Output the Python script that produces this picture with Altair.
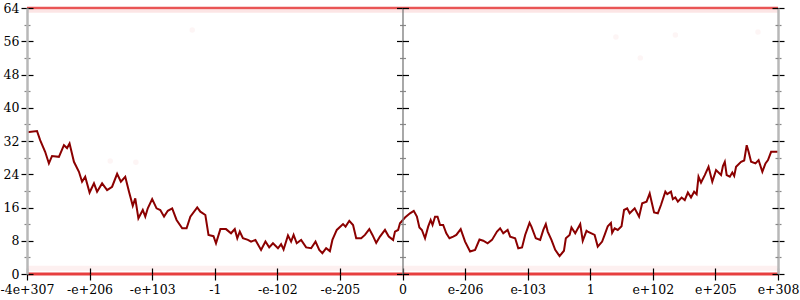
import altair as alt
import pandas as pd

# ---- data ----
X_TICKS = [0, 100, 200, 300, 400, 500, 600, 700, 800, 900, 1000, 1100, 1200]
X_TICK_LABELS = ['-4e+307', '-e+206', '-e+103', '-1', '-e-102', '-e-205', '0',
                 'e-206', 'e-103', '1', 'e+102', 'e+205', 'e+308']
Y_TICKS = [0, 4, 8, 12, 16, 20, 24, 28, 32, 36, 40, 44, 48, 52, 56, 60, 64]

X_LINE = [0, 16, 21, 29, 35, 40, 51, 59, 64, 68, 75, 83, 88, 93, 100, 107, 112, 120, 128, 136,
          144, 150, 157, 163, 169, 173, 178, 185, 189, 193, 200, 207, 213, 219, 225, 232, 239, 248, 255, 261,
          272, 277, 285, 290, 298, 302, 309, 318, 326, 332, 336, 340, 345, 353, 358, 365, 374, 381, 387, 393,
          401, 406, 410, 417, 422, 426, 431, 438, 446, 454, 461, 467, 472, 478, 484, 488, 495, 505, 509, 515,
          521, 526, 534, 540, 547, 552, 558, 564, 572, 578, 585, 588, 593, 596, 604, 612, 618, 623, 627, 631,
          636, 641, 645, 648, 652, 656, 660, 665, 670, 675, 681, 686, 693, 700, 708, 716, 723, 729, 736, 743,
          751, 756, 761, 768, 772, 780, 785, 791, 796, 803, 806, 813, 820, 825, 829, 832, 838, 844, 851, 858,
          861, 867, 870, 876, 884, 888, 894, 896, 907, 912, 919, 923, 928, 933, 935, 939, 944, 950, 954, 959,
          963, 971, 978, 983, 990, 995, 998, 1002, 1008, 1013, 1020, 1023, 1029, 1032, 1036, 1040, 1046, 1051, 1056, 1061,
          1066, 1070, 1073, 1077, 1083, 1089, 1095, 1101, 1109, 1112, 1115, 1118, 1123, 1127, 1130, 1133, 1141, 1146, 1150, 1153,
          1157, 1164, 1169, 1175, 1180, 1184, 1189, 1200]
Y_LINE = [34.1, 34.4, 32.2, 29.4, 26.6, 28.4, 28.2, 31.0, 30.3, 31.4, 27.0, 24.6, 22.2, 23.4, 19.6, 21.8, 19.8, 21.8, 20.2, 21.0,
          24.1, 22.2, 23.4, 19.8, 16.4, 18.2, 13.4, 15.4, 13.8, 15.8, 18.0, 15.8, 15.4, 13.8, 15.2, 15.8, 13.0, 11.0, 11.0, 13.8,
          16.0, 15.0, 14.2, 9.4, 9.1, 7.4, 10.8, 10.8, 9.8, 10.8, 8.6, 10.2, 8.6, 8.2, 7.8, 8.2, 5.8, 7.8, 6.4, 7.4,
          6.2, 7.2, 5.9, 9.3, 7.8, 9.4, 7.4, 8.2, 6.4, 6.2, 7.8, 5.8, 5.0, 6.2, 5.5, 8.2, 10.6, 12.0, 11.4, 12.8,
          11.8, 8.6, 8.6, 9.4, 10.8, 9.4, 7.5, 9.0, 10.6, 9.0, 8.2, 10.2, 10.6, 12.2, 13.6, 14.6, 15.2, 13.8, 11.2, 10.6,
          8.6, 11.4, 13.0, 11.8, 13.8, 13.8, 11.8, 11.8, 9.8, 8.6, 9.0, 9.4, 10.8, 7.8, 5.4, 5.8, 8.3, 8.0, 7.4, 8.2,
          10.2, 11.0, 9.8, 10.6, 9.0, 8.6, 6.2, 6.4, 9.4, 12.3, 11.4, 8.6, 8.2, 10.6, 12.0, 10.2, 8.2, 5.8, 4.3, 5.6,
          8.6, 9.4, 11.2, 9.8, 12.0, 8.0, 10.4, 10.2, 9.4, 6.6, 7.8, 9.4, 11.5, 12.3, 9.9, 11.0, 10.6, 11.5, 15.4, 15.8,
          14.6, 15.8, 13.8, 17.0, 17.4, 19.4, 17.4, 14.8, 14.6, 16.6, 19.8, 19.2, 19.8, 18.0, 18.4, 17.4, 18.4, 17.8, 19.6, 18.4,
          19.8, 19.2, 23.4, 22.0, 23.8, 25.8, 22.2, 25.0, 23.8, 26.0, 27.0, 23.8, 23.4, 24.4, 23.6, 25.8, 27.0, 27.3, 31.0, 29.4,
          27.0, 26.6, 27.4, 24.6, 26.6, 27.4, 29.4, 29.4]

BOTTOM_RULE = [0]
TOP_RULE = [64]
BOTTOM_FUZZ = [1.4]
TOP_FUZZ = [63.2]
STRAY_X = [264, 941, 1036, 1168, 980, 133, 174]
STRAY_Y = [58.7, 57.0, 57.5, 58.2, 52.0, 27.2, 26.9]

assert len(X_LINE) == len(Y_LINE)

FONT = "DejaVu Serif"
W, H = 751, 266

xs = alt.Scale(domain=[0, 1200], nice=False, zero=False)
ys = alt.Scale(domain=[0, 64], nice=False, zero=False)

MAJOR = "datum.value % 8 === 0"
label_expr = "[" + ",".join("'" + l + "'" for l in X_TICK_LABELS) + "][round(datum.value / 100)]"


def yaxis(orient, offset, labels=False, domain_color=None, domain_width=1):
    kw = dict(orient=orient, offset=offset, values=Y_TICKS, title=None, grid=False,
              labels=labels,
              tickSize={"condition": {"test": MAJOR, "value": 6}, "value": 3},
              tickColor={"condition": {"test": MAJOR, "value": "#000000"}, "value": "#888888"},
              tickWidth=1.2, zindex=1)
    if labels:
        kw.update(labelExpr=MAJOR + " ? datum.label : ''", labelFont=FONT, labelFontSize=12.5,
                  labelColor="#000000", labelPadding=2, labelOverlap=False, labelFlush=False)
    if domain_color:
        kw.update(domain=True, domainColor=domain_color, domainWidth=domain_width)
    else:
        kw.update(domain=False)
    return alt.Axis(**kw)


x_bottom = alt.Axis(orient="bottom", values=X_TICKS, labelExpr=label_expr, title=None, grid=False,
                    tickSize=6, tickColor="#000000", tickWidth=1.2, domain=False,
                    labelFont=FONT, labelFontSize=12.5, labelColor="#000000",
                    labelPadding=3, labelOverlap=False, labelFlush=False, labelBound=False, zindex=1)
x_up = alt.Axis(orient="top", offset=-H, values=X_TICKS, labels=False, title=None, grid=False,
                tickSize=6, tickColor="#000000", tickWidth=1.2, domain=False, zindex=1)

line_df = pd.DataFrame({"x": X_LINE, "v": Y_LINE})
stray_df = pd.DataFrame({"x": STRAY_X, "v": STRAY_Y})

bottom_fuzz = alt.Chart(pd.DataFrame({"v": BOTTOM_FUZZ})).mark_rule(
    color="#f07070", strokeWidth=5, opacity=0.1
).encode(y=alt.Y("v:Q", scale=ys, axis=yaxis("left", -W / 2, domain_color="#7a7a7a", domain_width=1.3)))

top_fuzz = alt.Chart(pd.DataFrame({"v": TOP_FUZZ})).mark_rule(
    color="#f07070", strokeWidth=3, opacity=0.18
).encode(y=alt.Y("v:Q", scale=ys, axis=yaxis("right", 0, domain_color="#b8b8b8", domain_width=2.5)))

bottom_rule = alt.Chart(pd.DataFrame({"v": BOTTOM_RULE})).mark_rule(
    color="#e42a2a", strokeWidth=3, opacity=0.9
).encode(y=alt.Y("v:Q", scale=ys, axis=yaxis("right", -W)))

top_rule = alt.Chart(pd.DataFrame({"v": TOP_RULE})).mark_rule(
    color="#e42a2a", strokeWidth=2.5, opacity=0.8
).encode(y=alt.Y("v:Q", scale=ys, axis=yaxis("left", -W)))

stray = alt.Chart(stray_df).mark_circle(size=30, color="#e05050", opacity=0.06).encode(
    x=alt.X("x:Q", scale=xs, axis=x_up),
    y=alt.Y("v:Q", scale=ys, axis=yaxis("right", -W / 2)),
)

line = alt.Chart(line_df).mark_line(color="#8b0000", strokeWidth=2).encode(
    x=alt.X("x:Q", scale=xs, axis=x_bottom),
    y=alt.Y("v:Q", scale=ys, axis=yaxis("left", 0, labels=True, domain_color="#b8b8b8", domain_width=2.5)),
)

chart = alt.layer(bottom_fuzz, top_fuzz, bottom_rule, top_rule, stray, line).resolve_axis(
    x="independent", y="independent"
).properties(
    width=W, height=H,
    autosize=alt.AutoSizeParams(type="none"),
    padding={"left": 27, "top": 8, "right": 22, "bottom": 26},
    background="#ffffff",
).configure_view(strokeWidth=0)

chart.save("out.html", embed_options={"renderer": "svg", "actions": False})
